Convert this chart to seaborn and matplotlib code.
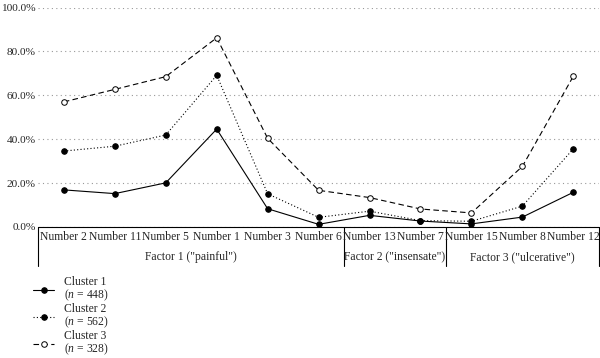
import numpy as np
import pandas as pd
import matplotlib
matplotlib.use('Agg')
import matplotlib.pyplot as plt
import matplotlib.transforms as mtransforms
import seaborn as sns

## DATA
items = ['Number 2', 'Number 11', 'Number 5', 'Number 1', 'Number 3', 'Number 6',
         'Number 13', 'Number 7', 'Number 15', 'Number 8', 'Number 12']
factors = ['Factor 1 ("painful")', 'Factor 2 ("insensate")', 'Factor 3 ("ulcerative")']
factor_sizes = [6, 2, 3]
cluster_1 = [16.9, 15.2, 20.1, 44.6, 8.3, 1.2, 5.3, 2.7, 1.4, 4.5, 15.8]
cluster_2 = [34.6, 36.8, 41.9, 69.1, 15.1, 4.4, 7.2, 2.9, 2.6, 9.5, 35.6]
cluster_3 = [57.0, 62.7, 68.5, 86.2, 40.4, 16.7, 13.4, 8.2, 6.4, 27.6, 68.7]
labels = ['Cluster 1\n($n$ = 448)', 'Cluster 2\n($n$ = 562)', 'Cluster 3\n($n$ = 328)']

## STYLE
sns.set_style('white')
plt.rcParams['font.family'] = ['Liberation Serif', 'DejaVu Serif']
plt.rcParams['mathtext.fontset'] = 'custom'
plt.rcParams['mathtext.it'] = 'Liberation Serif:italic'
plt.rcParams['mathtext.rm'] = 'Liberation Serif'
FS = 8.4

fig = plt.figure(figsize=(6, 3.58), dpi=100)
ax = fig.add_axes([0.064, 0.366, 0.934, 0.613])

x = np.arange(len(items))
series = [cluster_1, cluster_2, cluster_3]
styles = [dict(linestyle='-', markerfacecolor='black'),
          dict(linestyle=(0, (1, 2)), markerfacecolor='black'),
          dict(linestyle=(0, (5, 3)), markerfacecolor='white')]

for vals, lab, st in zip(series, labels, styles):
    sns.lineplot(x=x, y=vals, ax=ax, color='black', linewidth=0.8, marker='o',
                 markersize=4, markeredgecolor='black', markeredgewidth=0.7,
                 label=lab, **st)

ax.set_xlim(-0.5, len(items) - 0.5)
ax.set_ylim(0, 100)
ax.set_yticks(np.arange(0, 101, 20))
ax.set_yticklabels([f'{v:.1f}%' for v in np.arange(0, 101, 20)], fontsize=8.2)
ax.yaxis.grid(True, color='#999999', linestyle=(0, (1, 3)), linewidth=0.8)
ax.set_xticks([])
ax.tick_params(axis='y', length=0, pad=2)
for s in ax.spines.values():
    s.set_visible(False)

# table of item labels and factor groups under the axis
trans = mtransforms.blended_transform_factory(ax.transData, fig.transFigure)
y_top = 1 - 227 / 358
y_mid = 1 - 248 / 358
y_bot = 1 - 266 / 358
ax.plot([-0.5, len(items) - 0.5], [y_top, y_top], transform=trans, color='black',
        linewidth=0.8, clip_on=False)
bounds = np.concatenate([[0], np.cumsum(factor_sizes)]) - 0.5
for b in bounds:
    ax.plot([b, b], [y_top, y_bot], transform=trans, color='black', linewidth=0.8,
            clip_on=False)
for xi, name in zip(x, items):
    ax.text(xi, (y_top + y_mid) / 2, name, transform=trans, ha='center', va='center',
            fontsize=FS)
for i, name in enumerate(factors):
    ax.text((bounds[i] + bounds[i + 1]) / 2, (y_mid + y_bot) / 2, name, transform=trans,
            ha='center', va='center', fontsize=FS)

ax.get_legend().remove()
handles, labs = ax.get_legend_handles_labels()
leg = fig.legend(handles, labs, loc='upper left', bbox_to_anchor=(0.055, 0.228),
                 frameon=False, fontsize=FS, handlelength=1.8, labelspacing=0.0,
                 handletextpad=0.9, borderaxespad=0, borderpad=0)
for t in leg.get_texts():
    t.set_linespacing(0.95)

fig.savefig('out.png', dpi=100)
